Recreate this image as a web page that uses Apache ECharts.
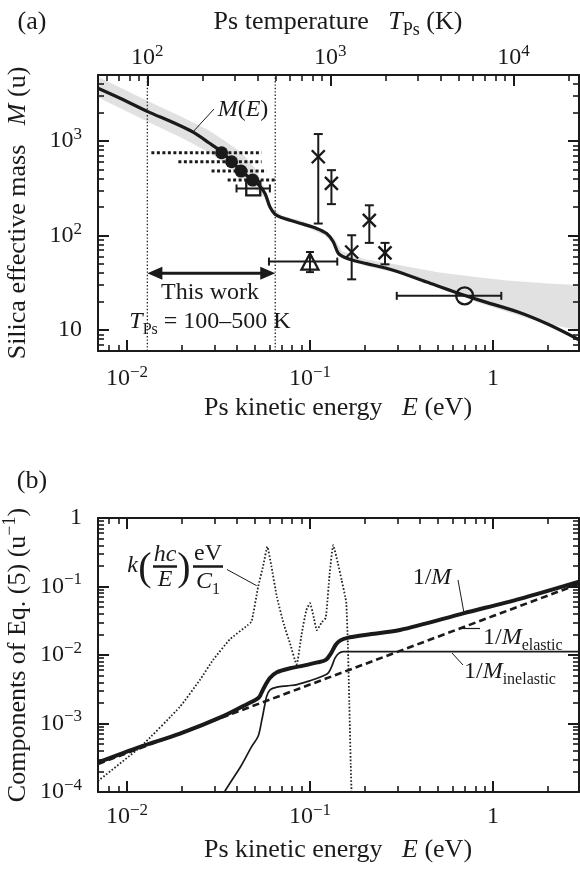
<!DOCTYPE html>
<html>
<head>
<meta charset="utf-8">
<script src="https://cdn.jsdelivr.net/npm/echarts@6.0.0/dist/echarts.min.js"></script>
<style>
html,body{margin:0;padding:0;background:#ffffff;}
#chart{width:580px;height:869px;}
</style>
</head>
<body>
<div id="chart"></div>
<script>
// ================= DATA =================
// Panel (a): silica effective mass M(E) (u) vs Ps kinetic energy E (eV)
const curveE = [0.00695, 0.0095, 0.013, 0.018, 0.023, 0.028, 0.0329, 0.0373, 0.042, 0.0486, 0.0521, 0.0568, 0.0604, 0.0644, 0.07, 0.0778, 0.0919, 0.1088, 0.1234, 0.134, 0.1428, 0.155, 0.175, 0.204, 0.285, 0.434, 0.634, 0.849, 1.37, 2.0, 2.95];
const curveM = [3620, 2750, 2050, 1560, 1240, 960, 771, 610, 485, 386, 350, 279, 201, 168, 155, 145, 132, 119, 105, 86, 65, 58.5, 54, 50.5, 43, 32.2, 24.8, 20.6, 15.5, 11.5, 7.9];
// grey uncertainty band around M(E)
const bandE    = [0.00695, 0.013, 0.02, 0.028, 0.035, 0.042, 0.05, 0.056, 0.062, 0.07, 0.09, 0.12, 0.135, 0.15, 0.2, 0.3, 0.5, 0.8, 1.2, 2.0, 2.95];
const bandLow  = [2900, 1600, 1080, 760, 560, 420, 310, 255, 185, 150, 130, 100, 82, 58, 48, 40, 29, 20, 15.5, 11.5, 10];
const bandHigh = [4800, 2650, 1800, 1300, 980, 760, 520, 330, 200, 163, 143, 114, 95, 68, 56, 49, 41, 36.5, 33.5, 31, 30];
// this work: filled circles with dotted energy ranges
const dotsE = [0.0329, 0.0373, 0.0420, 0.0486];
const dotsM = [752, 604, 481, 386];
const dotsELow = [0.0136, 0.0191, 0.0290, 0.0355];
const dotsEHigh = [0.0544, 0.0544, 0.058, 0.0646];
// open square
const squareE = [0.049], squareM = [315], squareELow = [0.0397], squareEHigh = [0.0604];
// open triangle
const triE = [0.1], triM = [53], triELow = [0.0597], triEHigh = [0.141], triMLow = [41], triMHigh = [67];
// open circle
const circE = [0.70], circM = [23], circELow = [0.298], circEHigh = [1.11];
// crosses with vertical error bars
const crossE = [0.111, 0.131, 0.169, 0.211, 0.257];
const crossM = [682, 356, 67, 145, 65.5];
const crossMLow = [134, 215, 34.4, 83.6, 49.6];
const crossMHigh = [1186, 492, 100.7, 209, 83.6];
// T_Ps = 100 K and 500 K expressed as E (eV)
const tempLineE = [0.01293, 0.0646];
const thisWorkM = 40;

// Panel (b): components of Eq. (5) (u^-1)
const invME = [0.00695, 0.0119, 0.0195, 0.0336, 0.045, 0.0526, 0.0556, 0.0604, 0.066, 0.0778, 0.092, 0.11, 0.122, 0.13, 0.138, 0.146, 0.16, 0.204, 0.31, 0.689, 1.4, 2.95];
const invMV = [2.7e-4, 4.6e-4, 7.1e-4, 1.28e-3, 1.9e-3, 2.4e-3, 3.2e-3, 4.6e-3, 5.6e-3, 6.4e-3, 7.0e-3, 7.8e-3, 8.5e-3, 1.05e-2, 1.4e-2, 1.62e-2, 1.78e-2, 1.98e-2, 2.32e-2, 4.06e-2, 6.6e-2, 0.118];
const elE = [0.00695, 0.03, 0.1, 0.3, 1, 2.95];
const elV = [2.57e-4, 1.11e-3, 3.7e-3, 1.11e-2, 3.7e-2, 0.109];
const inelE = [0.03, 0.0341, 0.042, 0.048, 0.0521, 0.0545, 0.0565, 0.058, 0.0605, 0.066, 0.075, 0.085, 0.1, 0.115, 0.126, 0.132, 0.137, 0.143, 0.152, 2.95];
const inelV = [5e-5, 1e-4, 2.4e-4, 4.6e-4, 6.5e-4, 1.1e-3, 1.8e-3, 2.5e-3, 3.1e-3, 3.4e-3, 3.55e-3, 3.7e-3, 4.2e-3, 4.8e-3, 5.5e-3, 7e-3, 9e-3, 1.05e-2, 1.12e-2, 1.12e-2];
const kE = [0.00695, 0.0119, 0.0195, 0.025, 0.0296, 0.0366, 0.0455, 0.048, 0.0521, 0.0555, 0.0585, 0.0615, 0.066, 0.072, 0.0778, 0.0845, 0.09, 0.0955, 0.1, 0.105, 0.109, 0.116, 0.122, 0.128, 0.134, 0.142, 0.149, 0.156, 0.158, 0.161, 0.164, 0.167, 0.17];
const kV = [1.45e-4, 4.6e-4, 1.76e-3, 4.3e-3, 8.5e-3, 1.7e-2, 2.7e-2, 3.1e-2, 0.099, 0.2, 0.38, 0.2, 0.07, 0.028, 0.0148, 7.3e-3, 0.02, 0.045, 0.057, 0.035, 0.023, 0.03, 0.035, 0.15, 0.40, 0.22, 0.124, 0.07, 0.057, 0.015, 2e-3, 2.5e-4, 5e-5];

// axis ranges and tick values
const E_MIN = 0.00695, E_MAX = 2.95;
const M_MIN = 6, M_MAX = 5000;
const V_MIN = 1e-4, V_MAX = 1;
const eMajor = [0.01, 0.1, 1];
const eMinor = [0.008, 0.009, 0.02, 0.03, 0.04, 0.05, 0.06, 0.07, 0.08, 0.09, 0.2, 0.3, 0.4, 0.5, 0.6, 0.7, 0.8, 0.9, 2];
const tMajor = [100, 1000, 10000];
const tMinor = [60, 70, 80, 90, 200, 300, 400, 500, 600, 700, 800, 900, 2000, 3000, 4000, 5000, 6000, 7000, 8000, 9000, 20000];
const mMajor = [10, 100, 1000];
const mMinor = [7, 8, 9, 20, 30, 40, 50, 60, 70, 80, 90, 200, 300, 400, 500, 600, 700, 800, 900, 2000, 3000, 4000];
const vMajor = [1e-4, 1e-3, 1e-2, 1e-1, 1];
const vMinor = [2e-4, 3e-4, 4e-4, 5e-4, 6e-4, 7e-4, 8e-4, 9e-4, 2e-3, 3e-3, 4e-3, 5e-3, 6e-3, 7e-3, 8e-3, 9e-3, 2e-2, 3e-2, 4e-2, 5e-2, 6e-2, 7e-2, 8e-2, 9e-2, 0.2, 0.3, 0.4, 0.5, 0.6, 0.7, 0.8, 0.9];

// ================= CHART =================
const INK = '#1a1a1a';
const FONT = '"Liberation Serif", "Times New Roman", Times, serif';
const L = v => Math.log10(v);
const K_B = 8.617333e-5;                 // eV/K, E = (3/2) k T
const T_SHIFT = -L(1.5 * K_B);
const xMin = L(E_MIN), xMax = L(E_MAX);
const tMin = xMin + T_SHIFT, tMax = xMax + T_SHIFT;

function powLabel(v) {
  const n = Math.round(v);
  if (n === 0) return '{b|1}';
  if (n === 1) return '{b|10}';
  return '{b|10}{s|' + (n < 0 ? '\u2212' : '') + Math.abs(n) + '}';
}
const AXIS_RICH = {
  b: {fontFamily: FONT, fontSize: 24, lineHeight: 30, verticalAlign: 'middle', color: INK},
  s: {fontFamily: FONT, fontSize: 17, lineHeight: 14, verticalAlign: 'top', color: INK}
};
function mkAxis(o) {
  return {
    type: 'value', gridIndex: o.grid, position: o.pos, min: o.min, max: o.max, z: 3,
    axisLine: {show: !!o.line, onZero: false, lineStyle: {color: INK, width: 2}},
    axisTick: {show: true, inside: true, length: o.len, customValues: o.ticks.map(L),
               lineStyle: {color: INK, width: o.tw}},
    axisLabel: o.labels ? {show: true, customValues: o.labels.map(L), formatter: powLabel,
               rich: AXIS_RICH, margin: o.margin, color: INK, fontFamily: FONT, fontSize: 24}
               : {show: false},
    splitLine: {show: false}, splitArea: {show: false}
  };
}
const gridA = {left: 98, top: 75, width: 481, height: 276};
const gridB = {left: 98, top: 518, width: 481, height: 274};

const xAxes = [
  mkAxis({grid: 0, pos: 'bottom', min: xMin, max: xMax, line: true, len: 11, tw: 2, ticks: eMajor, labels: eMajor, margin: 13}),
  mkAxis({grid: 0, pos: 'top', min: tMin, max: tMax, line: true, len: 11, tw: 2, ticks: tMajor, labels: tMajor, margin: 2}),
  mkAxis({grid: 1, pos: 'bottom', min: xMin, max: xMax, line: false, len: 6, tw: 1.6, ticks: eMinor}),
  mkAxis({grid: 1, pos: 'top', min: tMin, max: tMax, line: false, len: 6, tw: 1.6, ticks: tMinor}),
  mkAxis({grid: 2, pos: 'bottom', min: xMin, max: xMax, line: true, len: 11, tw: 2, ticks: eMajor, labels: eMajor, margin: 10}),
  mkAxis({grid: 2, pos: 'top', min: xMin, max: xMax, line: true, len: 11, tw: 2, ticks: eMajor}),
  mkAxis({grid: 3, pos: 'bottom', min: xMin, max: xMax, line: false, len: 6, tw: 1.6, ticks: eMinor}),
  mkAxis({grid: 3, pos: 'top', min: xMin, max: xMax, line: false, len: 6, tw: 1.6, ticks: eMinor})
];
const yAxes = [
  mkAxis({grid: 0, pos: 'left', min: L(M_MIN), max: L(M_MAX), line: true, len: 11, tw: 2, ticks: mMajor, labels: mMajor, margin: 16}),
  mkAxis({grid: 0, pos: 'right', min: L(M_MIN), max: L(M_MAX), line: true, len: 11, tw: 2, ticks: mMajor}),
  mkAxis({grid: 1, pos: 'left', min: L(M_MIN), max: L(M_MAX), line: false, len: 6, tw: 1.6, ticks: mMinor}),
  mkAxis({grid: 1, pos: 'right', min: L(M_MIN), max: L(M_MAX), line: false, len: 6, tw: 1.6, ticks: mMinor}),
  mkAxis({grid: 2, pos: 'left', min: L(V_MIN), max: L(V_MAX), line: true, len: 11, tw: 2, ticks: vMajor, labels: vMajor, margin: 16}),
  mkAxis({grid: 2, pos: 'right', min: L(V_MIN), max: L(V_MAX), line: true, len: 11, tw: 2, ticks: vMajor}),
  mkAxis({grid: 3, pos: 'left', min: L(V_MIN), max: L(V_MAX), line: false, len: 6, tw: 1.6, ticks: vMinor}),
  mkAxis({grid: 3, pos: 'right', min: L(V_MIN), max: L(V_MAX), line: false, len: 6, tw: 1.6, ticks: vMinor})
];

const pairs = (xs, ys) => xs.map((x, i) => [L(x), L(ys[i])]);

function hBarSeries(E, M, lo, hi, opt) {
  return {
    type: 'custom', xAxisIndex: 0, yAxisIndex: 0, z: 4, silent: true, clip: true,
    data: E.map((e, i) => [L(e), L(M[i]), L(lo[i]), L(hi[i])]),
    renderItem: function (p, api) {
      const y = api.value(1);
      const a = api.coord([api.value(2), y]), b = api.coord([api.value(3), y]);
      const ch = [{type: 'line', shape: {x1: a[0], y1: a[1], x2: b[0], y2: b[1]},
                   style: {stroke: INK, lineWidth: opt.width, lineDash: opt.dash || null}}];
      if (opt.cap) {
        ch.push({type: 'line', shape: {x1: a[0], y1: a[1] - opt.cap, x2: a[0], y2: a[1] + opt.cap}, style: {stroke: INK, lineWidth: 2}});
        ch.push({type: 'line', shape: {x1: b[0], y1: b[1] - opt.cap, x2: b[0], y2: b[1] + opt.cap}, style: {stroke: INK, lineWidth: 2}});
      }
      return {type: 'group', children: ch};
    }
  };
}
function vBarSeries(E, lo, hi, cap) {
  return {
    type: 'custom', xAxisIndex: 0, yAxisIndex: 0, z: 4, silent: true, clip: true,
    data: E.map((e, i) => [L(e), L(lo[i]), L(hi[i])]),
    renderItem: function (p, api) {
      const x = api.value(0);
      const a = api.coord([x, api.value(1)]), b = api.coord([x, api.value(2)]);
      return {type: 'group', children: [
        {type: 'line', shape: {x1: a[0], y1: a[1], x2: b[0], y2: b[1]}, style: {stroke: INK, lineWidth: 2}},
        {type: 'line', shape: {x1: a[0] - cap, y1: a[1], x2: a[0] + cap, y2: a[1]}, style: {stroke: INK, lineWidth: 2}},
        {type: 'line', shape: {x1: b[0] - cap, y1: b[1], x2: b[0] + cap, y2: b[1]}, style: {stroke: INK, lineWidth: 2}}
      ]};
    }
  };
}
const openSym = {color: 'rgba(255,255,255,0)', borderColor: INK, borderWidth: 2.3, opacity: 1};

const series = [
  // grey band
  {
    type: 'custom', xAxisIndex: 0, yAxisIndex: 0, z: 1, silent: true, clip: true,
    data: [[L(0.1), L(100)]],
    renderItem: function (p, api) {
      const pts = [];
      for (let i = 0; i < bandE.length; i++) pts.push(api.coord([L(bandE[i]), L(bandHigh[i])]));
      for (let i = bandE.length - 1; i >= 0; i--) pts.push(api.coord([L(bandE[i]), L(bandLow[i])]));
      return {type: 'polygon', shape: {points: pts}, style: {fill: '#e1e1e1'}};
    }
  },
  // dotted vertical lines at 100 K and 500 K
  {
    type: 'custom', xAxisIndex: 0, yAxisIndex: 0, z: 2, silent: true, clip: true,
    data: tempLineE.map(e => [L(e), L(100)]),
    renderItem: function (p, api) {
      const a = api.coord([api.value(0), L(M_MIN)]), b = api.coord([api.value(0), L(M_MAX)]);
      return {type: 'line', shape: {x1: a[0], y1: a[1], x2: b[0], y2: b[1]},
              style: {stroke: '#222', lineWidth: 1.3, lineDash: [1.4, 2]}};
    }
  },
  // M(E)
  {type: 'line', xAxisIndex: 0, yAxisIndex: 0, z: 5, data: pairs(curveE, curveM), showSymbol: false, smooth: 0.3,
   lineStyle: {color: INK, width: 3.2}, silent: true},
  // dotted ranges of filled circles
  hBarSeries(dotsE, dotsM, dotsELow, dotsEHigh, {width: 3, dash: [3, 2.5]}),
  hBarSeries(squareE, squareM, squareELow, squareEHigh, {width: 2, cap: 4}),
  hBarSeries(triE, triM, triELow, triEHigh, {width: 2, cap: 4}),
  vBarSeries(triE, triMLow, triMHigh, 4),
  hBarSeries(circE, circM, circELow, circEHigh, {width: 2, cap: 4}),
  vBarSeries(crossE, crossMLow, crossMHigh, 4.5),
  // crosses
  {
    type: 'custom', xAxisIndex: 0, yAxisIndex: 0, z: 6, silent: true,
    data: pairs(crossE, crossM),
    renderItem: function (p, api) {
      const c = api.coord([api.value(0), api.value(1)]), s = 6.5;
      return {type: 'group', children: [
        {type: 'line', shape: {x1: c[0] - s, y1: c[1] - s, x2: c[0] + s, y2: c[1] + s}, style: {stroke: INK, lineWidth: 2.4}},
        {type: 'line', shape: {x1: c[0] - s, y1: c[1] + s, x2: c[0] + s, y2: c[1] - s}, style: {stroke: INK, lineWidth: 2.4}}
      ]};
    }
  },
  {type: 'scatter', xAxisIndex: 0, yAxisIndex: 0, z: 6, symbol: 'circle', symbolSize: 13,
   itemStyle: {color: INK, opacity: 1}, data: pairs(dotsE, dotsM), silent: true},
  {type: 'scatter', xAxisIndex: 0, yAxisIndex: 0, z: 6, symbol: 'rect', symbolSize: 14,
   itemStyle: openSym, data: pairs(squareE, squareM), silent: true},
  {type: 'scatter', xAxisIndex: 0, yAxisIndex: 0, z: 6, symbol: 'triangle', symbolSize: [17, 16],
   itemStyle: openSym, data: pairs(triE, triM), silent: true},
  {type: 'scatter', xAxisIndex: 0, yAxisIndex: 0, z: 6, symbol: 'circle', symbolSize: 17,
   itemStyle: openSym, data: pairs(circE, circM), silent: true},
  // "This work" double arrow
  {
    type: 'custom', xAxisIndex: 0, yAxisIndex: 0, z: 6, silent: true,
    data: [[L(tempLineE[0]), L(tempLineE[1]), L(thisWorkM)]],
    renderItem: function (p, api) {
      const a = api.coord([api.value(0), api.value(2)]), b = api.coord([api.value(1), api.value(2)]);
      const hl = 15, hw = 6.5;
      return {type: 'group', children: [
        {type: 'line', shape: {x1: a[0] + hl - 2, y1: a[1], x2: b[0] - hl + 2, y2: b[1]}, style: {stroke: INK, lineWidth: 3}},
        {type: 'polygon', shape: {points: [[a[0], a[1]], [a[0] + hl, a[1] - hw], [a[0] + hl, a[1] + hw]]}, style: {fill: INK}},
        {type: 'polygon', shape: {points: [[b[0], b[1]], [b[0] - hl, b[1] - hw], [b[0] - hl, b[1] + hw]]}, style: {fill: INK}}
      ]};
    }
  },
  // Panel (b)
  {type: 'line', xAxisIndex: 4, yAxisIndex: 4, z: 4, data: pairs(kE, kV), showSymbol: false, smooth: 0.15,
   lineStyle: {color: '#222', width: 1.8, type: [1.6, 1.9]}, silent: true},
  {type: 'line', xAxisIndex: 4, yAxisIndex: 4, z: 5, data: pairs(elE, elV), showSymbol: false,
   lineStyle: {color: INK, width: 2.6, type: [7, 4]}, silent: true},
  {type: 'line', xAxisIndex: 4, yAxisIndex: 4, z: 5, data: pairs(inelE, inelV), showSymbol: false, smooth: 0.3,
   lineStyle: {color: INK, width: 1.7}, silent: true},
  {type: 'line', xAxisIndex: 4, yAxisIndex: 4, z: 6, data: pairs(invME, invMV), showSymbol: false, smooth: 0.3,
   lineStyle: {color: INK, width: 4}, silent: true}
];

// ---------- text annotations ----------
function RT(size) {
  const sub = Math.round(size * 0.68);
  return {
    r: {fontFamily: FONT, fontSize: size, lineHeight: size + 8, verticalAlign: 'middle', fill: INK, color: INK},
    i: {fontFamily: FONT, fontSize: size, fontStyle: 'italic', lineHeight: size + 8, verticalAlign: 'middle', fill: INK, color: INK},
    sub: {fontFamily: FONT, fontSize: sub, lineHeight: sub, verticalAlign: 'bottom', fill: INK, color: INK},
    sup: {fontFamily: FONT, fontSize: sub, lineHeight: sub, verticalAlign: 'top', fill: INK, color: INK}
  };
}
function txt(x, y, text, size, align, rot) {
  return {
    type: 'text', x: x, y: y, z: 50, silent: true, rotation: rot || 0,
    style: {text: text, rich: RT(size), font: size + 'px ' + FONT, fill: INK,
            align: align || 'center', verticalAlign: 'middle', textAlign: align || 'center', textVerticalAlign: 'middle'}
  };
}
function seg(x1, y1, x2, y2, w) {
  return {type: 'line', z: 50, silent: true, shape: {x1: x1, y1: y1, x2: x2, y2: y2}, style: {stroke: INK, lineWidth: w}};
}
const graphics = [
  txt(32, 22, '{r|(a)}', 26),
  txt(338, 22, '{r|Ps temperature   }{i|T}{sub|Ps}{r| (K)}', 26),
  txt(18, 213, '{r|Silica effective mass   }{i|M}{r| (u)}', 26, 'center', Math.PI / 2),
  txt(338, 408, '{r|Ps kinetic energy   }{i|E}{r| (eV)}', 26),
  txt(243, 110, '{i|M}{r|(}{i|E}{r|)}', 24),
  seg(214, 109, 192, 133, 1),
  txt(210, 293, '{r|This work}', 24),
  txt(210, 322, '{i|T}{sub|Ps}{r| = 100\u2013500 K}', 24),

  txt(32, 481, '{r|(b)}', 26),
  txt(18, 655, '{r|Components of Eq. (5) (u}{sup|\u22121}{r|)}', 26, 'center', Math.PI / 2),
  txt(338, 850, '{r|Ps kinetic energy   }{i|E}{r| (eV)}', 26),
  // k(hc/E) eV/C1
  txt(132.5, 566, '{i|k}', 24),
  txt(145, 569, '{r|(}', 40),
  txt(165, 555, '{i|hc}', 24),
  seg(153, 566.5, 177, 566.5, 2.5),
  txt(165, 580, '{i|E}', 24),
  txt(184, 569, '{r|)}', 40),
  txt(208, 554, '{r|eV}', 24),
  seg(193, 566.5, 223, 566.5, 2.5),
  txt(208, 582, '{i|C}{sub|1}', 24),
  seg(227, 569.5, 256.7, 585.7, 1),
  // curve labels
  txt(432, 578, '{r|1/}{i|M}', 24),
  seg(458, 580, 464, 613, 1),
  txt(483, 638, '{r|1/}{i|M}{sub|elastic}', 24, 'left'),
  seg(460, 628.5, 480, 628.5, 1.2),
  txt(464, 672, '{r|1/}{i|M}{sub|inelastic}', 24, 'left'),
  seg(452, 653, 463, 665, 1)
];

const chart = echarts.init(document.getElementById('chart'), null, {renderer: 'canvas'});
chart.setOption({
  animation: false,
  backgroundColor: '#ffffff',
  grid: [
    Object.assign({}, gridA), Object.assign({}, gridA),
    Object.assign({}, gridB), Object.assign({}, gridB)
  ],
  xAxis: xAxes,
  yAxis: yAxes,
  series: series,
  graphic: {elements: graphics}
});
</script>
</body>
</html>
